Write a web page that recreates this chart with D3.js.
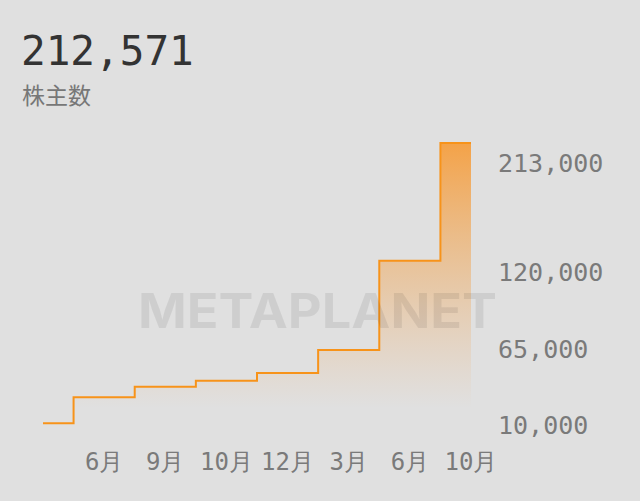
<!DOCTYPE html>
<html>
<head>
<meta charset="utf-8">
<script src="https://cdn.jsdelivr.net/npm/d3@7"></script>
<style>
  html, body { margin: 0; padding: 0; background: #e0e0e0; }
  svg { display: block; }
</style>
</head>
<body>
<div id="chart"></div>
<script>
// shareholder counts per period (first period has no label)
const periods = ['', '6月', '9月', '10月', '12月', '3月', '6月', '10月'];
const holders = [10500, 29200, 36900, 41200, 46800, 63400, 127700, 212571];
const yTicks = [10000, 65000, 120000, 213000];
const headline = '212,571';
const subtitle = '株主数';
const watermark = 'METAPLANET';

const width = 640;
const height = 501;
const mono = '"DejaVu Sans Mono", "Liberation Mono", monospace';
const cjk = '"Noto Sans CJK JP", "Noto Sans", sans-serif';

const svg = d3.select('#chart')
  .append('svg')
  .attr('width', width)
  .attr('height', height)
  .style('background-color', '#e0e0e0');

const x = d3.scalePoint()
  .domain(d3.range(holders.length))
  .range([43, 471]);

const y = d3.scaleLinear()
  .domain([10000, d3.max(holders)])
  .range([424, 143]);

// gradient fill under the steps
const grad = svg.append('defs')
  .append('linearGradient')
  .attr('id', 'fillGrad')
  .attr('gradientUnits', 'userSpaceOnUse')
  .attr('x1', 0).attr('x2', 0)
  .attr('y1', y(d3.max(holders)))
  .attr('y2', 408);
grad.append('stop').attr('offset', 0).attr('stop-color', '#f79a33').attr('stop-opacity', 0.88);
grad.append('stop').attr('offset', 0.55).attr('stop-color', '#f0a85a').attr('stop-opacity', 0.42);
grad.append('stop').attr('offset', 1).attr('stop-color', '#f0b070').attr('stop-opacity', 0);

const area = d3.area()
  .curve(d3.curveStep)
  .x((d, i) => x(i))
  .y0(y(10000))
  .y1(d => y(d));

const line = d3.line()
  .curve(d3.curveStep)
  .x((d, i) => x(i))
  .y(d => y(d));

svg.append('path')
  .datum(holders)
  .attr('d', area)
  .attr('fill', 'url(#fillGrad)');

svg.append('path')
  .datum(holders)
  .attr('d', line)
  .attr('fill', 'none')
  .attr('stroke', '#f7931a')
  .attr('stroke-width', 2);

// watermark on top
svg.append('text')
  .attr('x', 138)
  .attr('y', 328)
  .attr('textLength', 359)
  .attr('lengthAdjust', 'spacingAndGlyphs')
  .style('font-family', 'Inter, "Liberation Sans", sans-serif')
  .style('font-weight', 700)
  .style('font-size', '48px')
  .attr('fill', '#000')
  .attr('fill-opacity', 0.08)
  .text(watermark);

// right axis labels
svg.append('g')
  .selectAll('text')
  .data(yTicks)
  .join('text')
  .attr('x', 498)
  .attr('y', d => Math.max(y(d), 162) + 10)
  .style('font-family', mono)
  .style('font-size', '25px')
  .attr('fill', '#7a7a7a')
  .text(d => d3.format(',')(d));

// bottom labels
svg.append('g')
  .selectAll('text')
  .data(periods)
  .join('text')
  .attr('x', (d, i) => x(i))
  .attr('y', 470)
  .attr('text-anchor', 'middle')
  .style('font-family', mono)
  .style('font-size', '24px')
  .attr('fill', '#7a7a7a')
  .text(d => d);

// header
svg.append('text')
  .attr('x', 21)
  .attr('y', 65)
  .style('font-family', mono)
  .style('font-size', '41px')
  .attr('fill', '#333')
  .text(headline);

svg.append('text')
  .attr('x', 22)
  .attr('y', 104)
  .style('font-family', cjk)
  .style('font-size', '23px')
  .attr('fill', '#777')
  .text(subtitle);
</script>
</body>
</html>
